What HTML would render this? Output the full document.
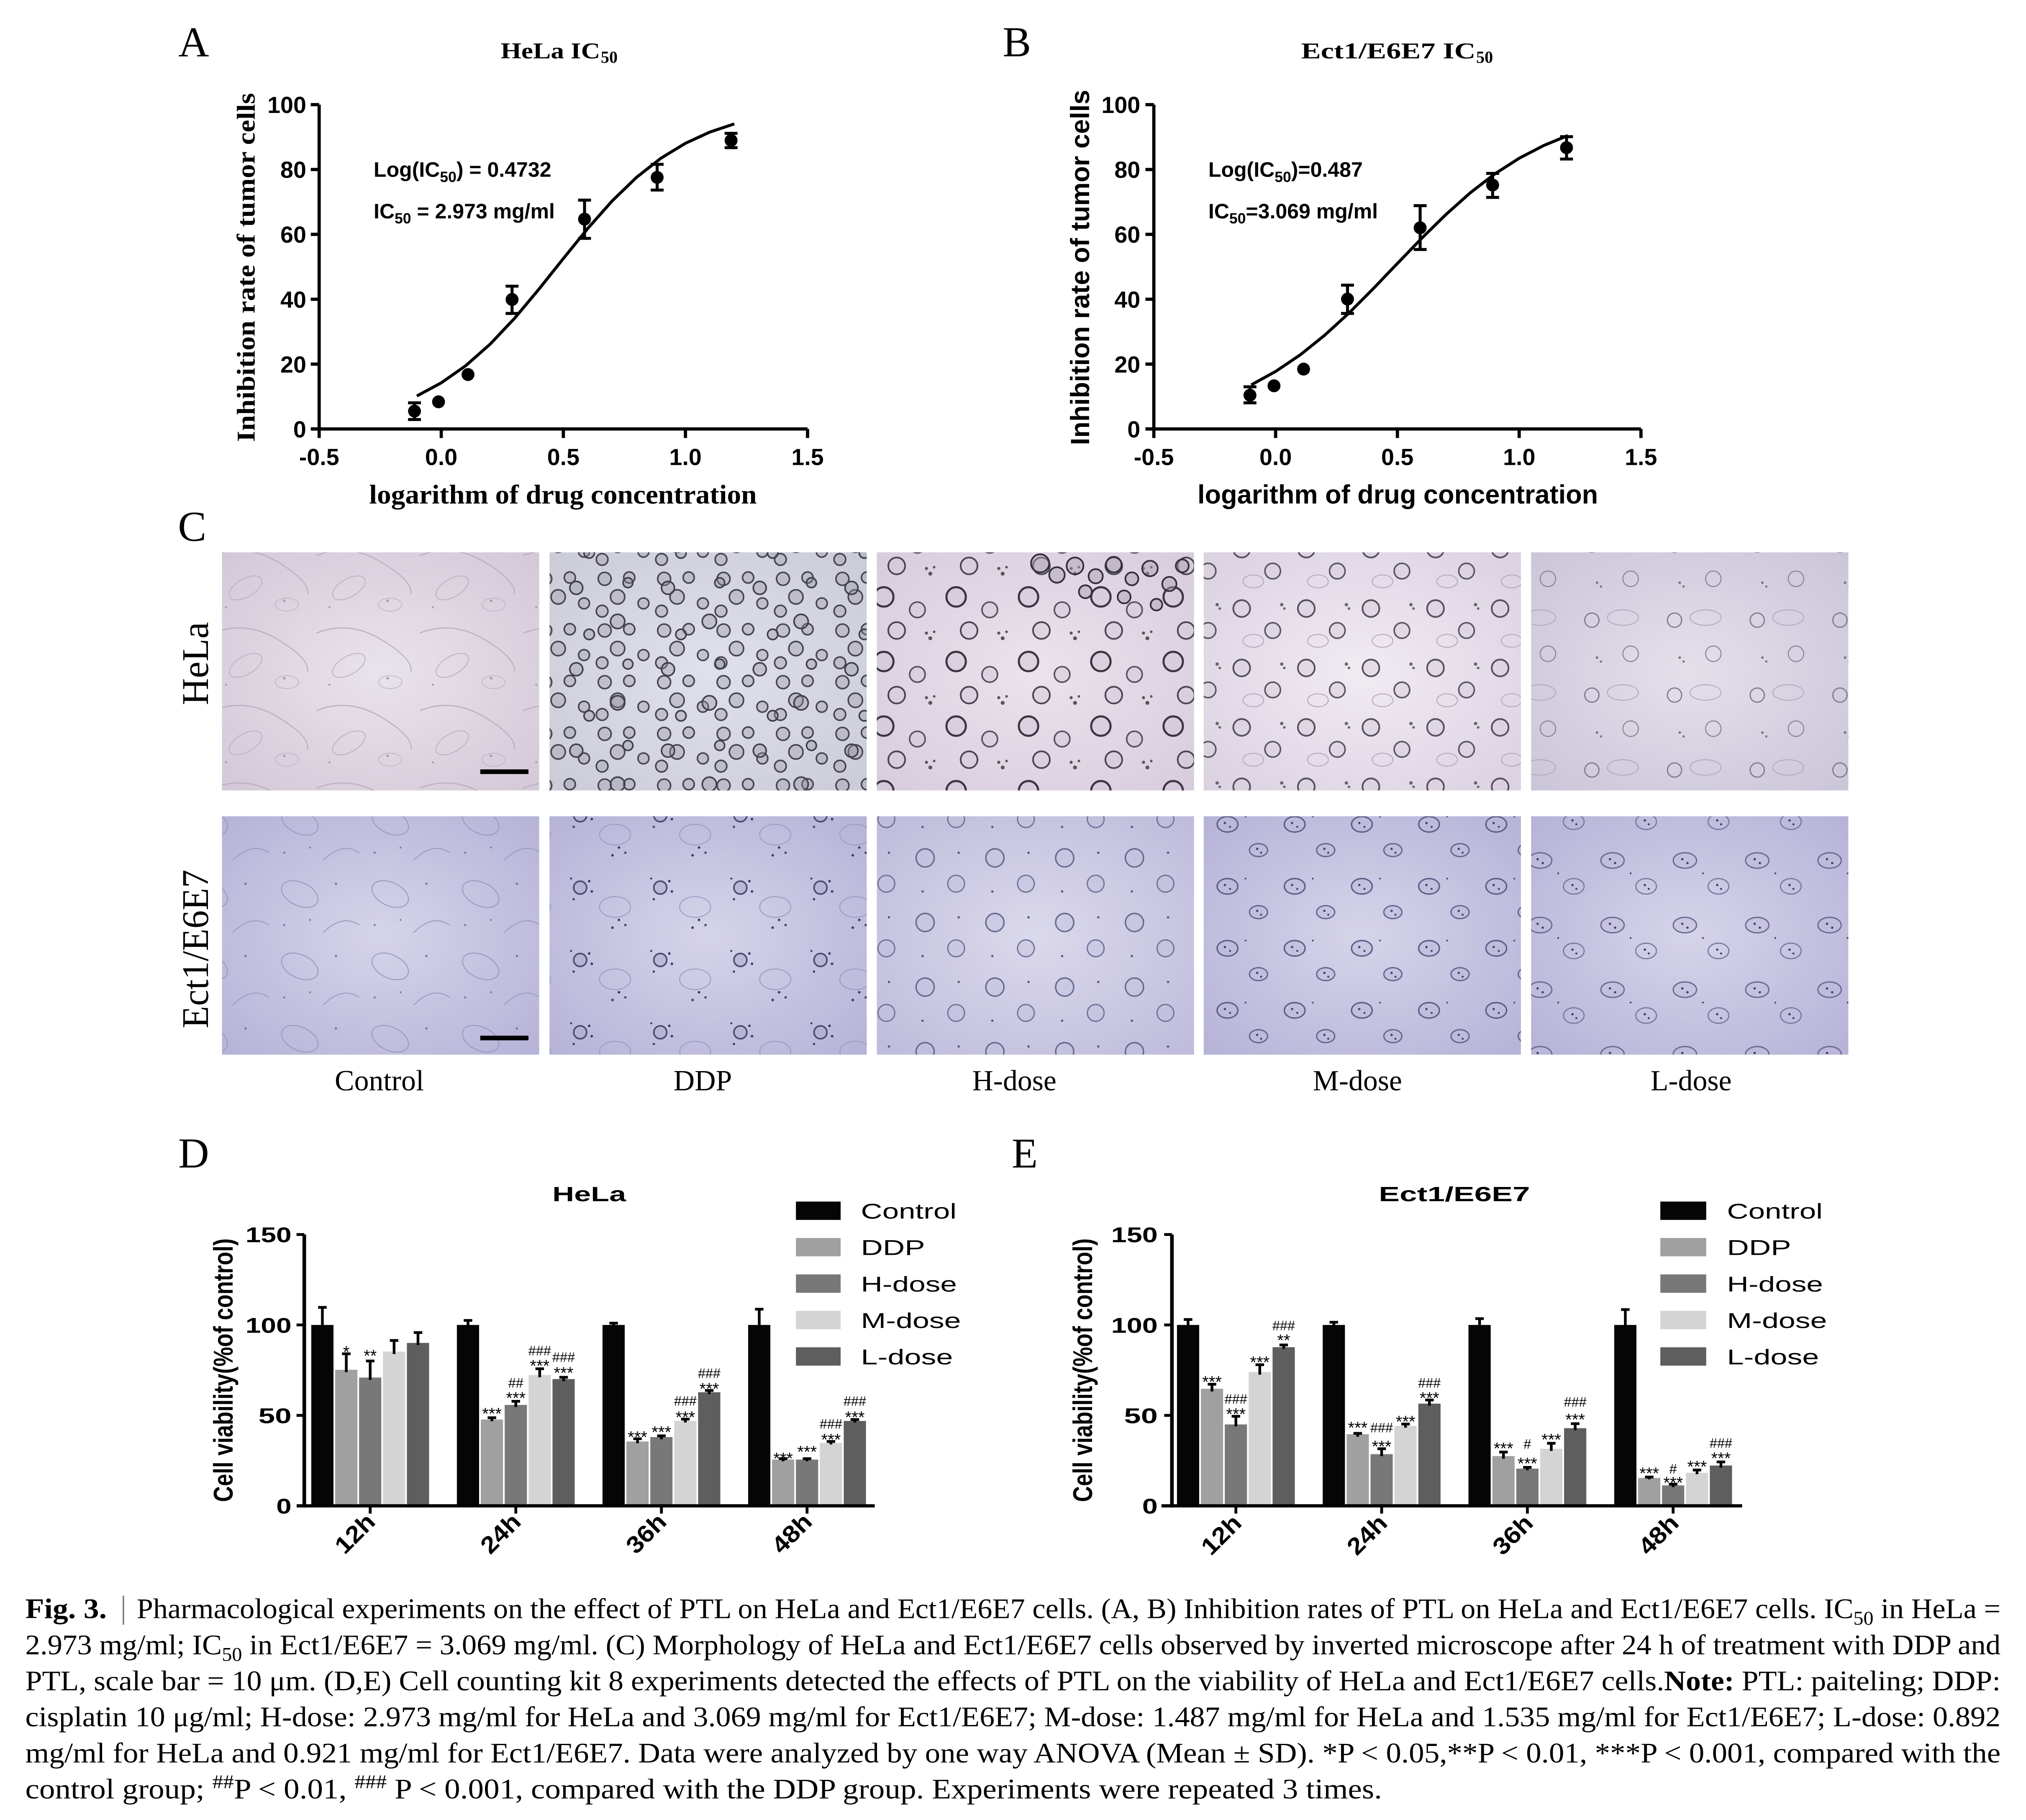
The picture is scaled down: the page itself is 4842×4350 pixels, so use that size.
<!DOCTYPE html>
<html><head><meta charset="utf-8"><style>html,body{margin:0;padding:0;background:#fff}svg{display:block}</style></head>
<body>
<svg xmlns="http://www.w3.org/2000/svg" width="4842" height="4350" viewBox="0 0 1568 1408.67" preserveAspectRatio="none">
<defs>
<radialGradient id="gH1" cx=".5" cy=".5" r=".75"><stop offset="0" stop-color="#e9e3eb"/><stop offset="1" stop-color="#d2c6d6"/></radialGradient>
<radialGradient id="gH2" cx=".5" cy=".5" r=".75"><stop offset="0" stop-color="#e0e1ea"/><stop offset="1" stop-color="#cacad7"/></radialGradient>
<radialGradient id="gH3" cx=".5" cy=".5" r=".75"><stop offset="0" stop-color="#ebe3ec"/><stop offset="1" stop-color="#d6cadc"/></radialGradient>
<radialGradient id="gH4" cx=".5" cy=".5" r=".75"><stop offset="0" stop-color="#f1ebf2"/><stop offset="1" stop-color="#d9cfe0"/></radialGradient>
<radialGradient id="gH5" cx=".5" cy=".5" r=".75"><stop offset="0" stop-color="#e4e0ea"/><stop offset="1" stop-color="#c9c3d7"/></radialGradient>
<radialGradient id="gE" cx=".5" cy=".5" r=".75"><stop offset="0" stop-color="#d6d4ea"/><stop offset="1" stop-color="#b3b0d6"/></radialGradient>
<radialGradient id="gE2" cx=".5" cy=".5" r=".75"><stop offset="0" stop-color="#dbd9ec"/><stop offset="1" stop-color="#bcb9da"/></radialGradient>

<pattern id="pH1" width="80" height="60" patternUnits="userSpaceOnUse">
<path d="M5 10 Q30 0 55 15 T78 40" stroke="#b9adbd" fill="none" stroke-width=".8"/>
<ellipse cx="30" cy="35" rx="14" ry="7" fill="none" stroke="#bfb2c2" stroke-width=".7" transform="rotate(-30 30 35)"/>
<ellipse cx="62" cy="48" rx="9" ry="5" fill="none" stroke="#c2b6c5" stroke-width=".6"/>
<circle cx="60" cy="45" r="1" fill="#a89aab"/><circle cx="15" cy="50" r=".8" fill="#a89aab"/>
</pattern>
<pattern id="pH2" width="46" height="40" patternUnits="userSpaceOnUse">
<g fill="#9d9ba8" fill-opacity=".4" stroke="#454552" stroke-width="1.2">
<circle cx="8" cy="8" r="5"/><circle cx="27" cy="7" r="4.3"/><circle cx="18" cy="22" r="5.5"/><circle cx="38" cy="27" r="4.2"/><circle cx="6" cy="33" r="4.5"/>
</g>
</pattern>
<pattern id="pH2b" width="71" height="63" patternUnits="userSpaceOnUse">
<g fill="#8f8d9a" fill-opacity=".35" stroke="#3e3e4a" stroke-width="1.2">
<circle cx="20" cy="14" r="5"/><circle cx="52" cy="40" r="5.5"/><circle cx="30" cy="50" r="4"/><circle cx="60" cy="10" r="3.8"/>
</g>
</pattern>
<pattern id="pH3" width="56" height="50" patternUnits="userSpaceOnUse">
<circle cx="12" cy="12" r="7.5" fill="#d0c6d6" fill-opacity=".5" stroke="#3a3540" stroke-width="1.6"/>
<circle cx="38" cy="22" r="6" fill="#cfc5d5" fill-opacity=".4" stroke="#555060" stroke-width="1.2"/>
<circle cx="22" cy="38" r="6.5" fill="#cfc5d5" fill-opacity=".4" stroke="#4a4550" stroke-width="1.3"/>
<circle cx="48" cy="44" r="1.5" fill="#555"/><circle cx="45" cy="40" r="1.2" fill="#555"/><circle cx="51" cy="39" r="1" fill="#555"/>
</pattern>
<pattern id="pH4" width="50" height="46" patternUnits="userSpaceOnUse">
<circle cx="11" cy="11" r="6.5" fill="#d7cddb" fill-opacity=".5" stroke="#55505c" stroke-width="1.3"/>
<circle cx="35" cy="28" r="6" fill="#d7cddb" fill-opacity=".5" stroke="#5a5562" stroke-width="1.2"/>
<ellipse cx="20" cy="36" rx="8" ry="5" fill="none" stroke="#b5a9b9" stroke-width=".7"/>
<circle cx="42" cy="8" r="1.3" fill="#666"/><circle cx="44" cy="11" r="1" fill="#666"/>
</pattern>
<pattern id="pH5" width="64" height="58" patternUnits="userSpaceOnUse">
<circle cx="16" cy="16" r="5.5" fill="none" stroke="#7c7788" stroke-width=".9"/>
<circle cx="46" cy="42" r="6" fill="none" stroke="#8a8595" stroke-width=".8"/>
<ellipse cx="40" cy="14" rx="12" ry="6" fill="none" stroke="#b0aabd" stroke-width=".7"/>
<circle cx="20" cy="45" r="1" fill="#777"/><circle cx="23" cy="48" r=".9" fill="#777"/>
</pattern>
<pattern id="pE1" width="70" height="56" patternUnits="userSpaceOnUse">
<ellipse cx="22" cy="20" rx="15" ry="9" fill="none" stroke="#9a97bd" stroke-width=".7" transform="rotate(25 22 20)"/>
<path d="M40 50 Q55 35 68 44" fill="none" stroke="#9c99bf" stroke-width=".7"/>
<circle cx="50" cy="12" r=".9" fill="#77769a"/><circle cx="10" cy="44" r=".8" fill="#77769a"/><circle cx="30" cy="40" r=".7" fill="#77769a"/>
</pattern>
<pattern id="pE2" width="62" height="56" patternUnits="userSpaceOnUse">
<circle cx="15" cy="15" r="5" fill="#a9a7cb" fill-opacity=".5" stroke="#4a4a6e" stroke-width="1.2"/>
<ellipse cx="42" cy="30" rx="12" ry="8" fill="none" stroke="#9c9ac0" stroke-width=".7"/>
<g fill="#3e3d60"><circle cx="22" cy="10" r="1"/><circle cx="24" cy="18" r="1"/><circle cx="10" cy="24" r=".9"/><circle cx="45" cy="40" r="1"/><circle cx="50" cy="44" r=".9"/><circle cx="40" cy="46" r="1"/><circle cx="8" cy="8" r=".8"/></g>
</pattern>
<pattern id="pE3" width="54" height="50" patternUnits="userSpaceOnUse">
<circle cx="14" cy="14" r="7" fill="#c0bddb" fill-opacity=".4" stroke="#6a6890" stroke-width="1.1"/>
<circle cx="38" cy="34" r="6.5" fill="#c0bddb" fill-opacity=".4" stroke="#75739a" stroke-width="1"/>
<circle cx="40" cy="10" r=".9" fill="#555577"/><circle cx="12" cy="40" r=".9" fill="#555577"/>
</pattern>
<pattern id="pE4" width="52" height="48" patternUnits="userSpaceOnUse">
<ellipse cx="14" cy="14" rx="8" ry="6" fill="#bcb9da" fill-opacity=".5" stroke="#5f5d88" stroke-width="1.1"/>
<ellipse cx="38" cy="34" rx="7" ry="5" fill="#bcb9da" fill-opacity=".5" stroke="#66648e" stroke-width="1"/>
<g fill="#444466"><circle cx="12" cy="13" r=".9"/><circle cx="16" cy="16" r=".8"/><circle cx="37" cy="33" r=".9"/><circle cx="40" cy="36" r=".8"/><circle cx="28" cy="8" r=".7"/></g>
</pattern>
<pattern id="pE5" width="56" height="50" patternUnits="userSpaceOnUse">
<ellipse cx="16" cy="16" rx="9" ry="6" fill="#bdbada" fill-opacity=".4" stroke="#6c6a92" stroke-width="1"/>
<ellipse cx="42" cy="36" rx="8" ry="6" fill="none" stroke="#7a78a0" stroke-width=".9"/>
<g fill="#3f3f62"><circle cx="14" cy="15" r=".9"/><circle cx="18" cy="18" r=".9"/><circle cx="41" cy="35" r=".9"/><circle cx="44" cy="38" r=".8"/><circle cx="30" cy="26" r=".7"/></g>
</pattern>
</defs>

<rect x="0" y="0" width="1568" height="1408.67" fill="#ffffff"/>

<!-- ===== Panel A ===== -->
<g font-family="'Liberation Serif', 'Times New Roman', serif">
<text x="138" y="43.5" font-size="33">A</text>
<text x="387.5" y="45.2" font-size="17.5" font-weight="bold" textLength="77" lengthAdjust="spacingAndGlyphs">HeLa IC</text>
<text x="465" y="48.5" font-size="13" font-weight="bold">50</text>
<text x="435.7" y="389.7" font-size="21" font-weight="bold" text-anchor="middle" textLength="300" lengthAdjust="spacingAndGlyphs">logarithm of drug concentration</text>
<text transform="translate(197,207) rotate(-90)" font-size="20" font-weight="bold" text-anchor="middle" textLength="270" lengthAdjust="spacingAndGlyphs">Inhibition rate of tumor cells</text>
</g>
<g stroke="#000" stroke-width="2.5" fill="none">
<path d="M247 81V333.2M241 332H625"/>
<path d="M240.5 81H247M240.5 131.2H247M240.5 181.4H247M240.5 231.6H247M240.5 281.8H247M240.5 332H247"/>
<path d="M247 332V339M341.5 332V339M436 332V339M530.5 332V339M625 332V339"/>
<polyline stroke-width="2.3" stroke-linejoin="round" points="322.6,306.5 341.5,296.3 360.4,283.1 379.3,266.4 398.2,246.4 417.1,223.8 436,200.1 454.9,176.8 473.8,155.5 492.7,137.2 511.6,122.4 530.5,110.9 549.4,102.2 568.3,95.9"/>
<path stroke-width="2.3" d="M320.8 311.8V324.7M315.8 311.8H325.8M315.8 324.7H325.8M396.3 221.5V242.6M391.3 221.5H401.3M391.3 242.6H401.3M452.4 154.9V184.5M447.4 154.9H457.4M447.4 184.5H457.4M508.6 127.2V147.1M503.6 127.2H513.6M503.6 147.1H513.6M565.8 103.2V114.3M560.8 103.2H570.8M560.8 114.3H570.8"/>
</g>
<g fill="#000">
<circle cx="320.8" cy="318.2" r="5"/><circle cx="339.4" cy="311" r="5"/><circle cx="362.2" cy="289.9" r="5"/><circle cx="396.3" cy="231.8" r="5"/><circle cx="452.4" cy="169.6" r="5"/><circle cx="508.6" cy="137.3" r="5"/><circle cx="565.8" cy="108.7" r="5"/>
</g>
<g font-family="'Liberation Sans', Arial, sans-serif" font-weight="bold" fill="#000">
<g font-size="18" text-anchor="end">
<text x="237" y="87.5">100</text><text x="237" y="137.7">80</text><text x="237" y="187.9">60</text><text x="237" y="238.1">40</text><text x="237" y="288.3">20</text><text x="237" y="338.5">0</text>
</g>
<g font-size="18" text-anchor="middle">
<text x="247" y="360">-0.5</text><text x="341.5" y="360">0.0</text><text x="436" y="360">0.5</text><text x="530.5" y="360">1.0</text><text x="625" y="360">1.5</text>
</g>
<text x="289.2" y="136.8" font-size="16.2">Log(IC<tspan font-size="11.5" dy="4">50</tspan><tspan dy="-4">) = 0.4732</tspan></text>
<text x="289.2" y="169" font-size="16.2">IC<tspan font-size="11.5" dy="4">50</tspan><tspan dy="-4"> = 2.973 mg/ml</tspan></text>
</g>

<!-- ===== Panel B ===== -->
<g font-family="'Liberation Serif', 'Times New Roman', serif">
<text x="776" y="43.5" font-size="33">B</text>
<text x="1007" y="45.2" font-size="17.5" font-weight="bold" textLength="135" lengthAdjust="spacingAndGlyphs">Ect1/E6E7  IC</text>
<text x="1142.5" y="48.5" font-size="13" font-weight="bold">50</text>
</g>
<g stroke="#000" stroke-width="2.5" fill="none">
<path d="M893 81V333.2M887 332H1270"/>
<path d="M886.5 81H893M886.5 131.2H893M886.5 181.4H893M886.5 231.6H893M886.5 281.8H893M886.5 332H893"/>
<path d="M893 332V339M987.25 332V339M1081.5 332V339M1175.75 332V339M1270 332V339"/>
<polyline stroke-width="2.3" stroke-linejoin="round" points="968.4,297.9 987.25,287.5 1006.1,274.8 1024.95,259.7 1043.8,242.5 1062.65,223.6 1081.5,203.9 1100.35,184.4 1119.2,165.9 1138.05,149.1 1156.9,134.6 1175.75,122.5 1194.6,112.7 1213.45,104.9"/>
<path stroke-width="2.3" d="M967.4 299.4V311.8M962.4 299.4H972.4M962.4 311.8H972.4M1042.9 220.7V242.6M1037.9 220.7H1047.9M1037.9 242.6H1047.9M1099.1 159.2V193.1M1094.1 159.2H1104.1M1094.1 193.1H1104.1M1155.2 134.2V152.8M1150.2 134.2H1160.2M1150.2 152.8H1160.2M1212.4 105.8V123.1M1207.4 105.8H1217.4M1207.4 123.1H1217.4"/>
</g>
<g fill="#000">
<circle cx="967.4" cy="305.9" r="5"/><circle cx="986" cy="298.6" r="5"/><circle cx="1008.9" cy="285.7" r="5"/><circle cx="1042.9" cy="231.5" r="5"/><circle cx="1099.1" cy="176.3" r="5"/><circle cx="1155.2" cy="143.2" r="5"/><circle cx="1212.4" cy="114.3" r="5"/>
</g>
<g font-family="'Liberation Sans', Arial, sans-serif" font-weight="bold" fill="#000">
<g font-size="18" text-anchor="end">
<text x="882.5" y="87.5">100</text><text x="882.5" y="137.7">80</text><text x="882.5" y="187.9">60</text><text x="882.5" y="238.1">40</text><text x="882.5" y="288.3">20</text><text x="882.5" y="338.5">0</text>
</g>
<g font-size="18" text-anchor="middle">
<text x="893" y="360">-0.5</text><text x="987.25" y="360">0.0</text><text x="1081.5" y="360">0.5</text><text x="1175.75" y="360">1.0</text><text x="1270" y="360">1.5</text>
</g>
<text x="935.2" y="136.8" font-size="16.2">Log(IC<tspan font-size="11.5" dy="4">50</tspan><tspan dy="-4">)=0.487</tspan></text>
<text x="935.2" y="169" font-size="16.2">IC<tspan font-size="11.5" dy="4">50</tspan><tspan dy="-4">=3.069 mg/ml</tspan></text>
<text x="1081.8" y="389.7" font-size="20.4" text-anchor="middle" textLength="310" lengthAdjust="spacingAndGlyphs">logarithm of drug concentration</text>
<text transform="translate(843,207) rotate(-90)" font-size="20.4" text-anchor="middle" textLength="275" lengthAdjust="spacingAndGlyphs">Inhibition rate of tumor cells</text>
</g>

<!-- ===== Panel C ===== -->
<text x="137.7" y="418.5" font-family="'Liberation Serif', 'Times New Roman', serif" font-size="33">C</text>
<rect x="171.8" y="427.5" width="245.5" height="184.3" fill="url(#gH1)"/><rect x="171.8" y="427.5" width="245.5" height="184.3" fill="url(#pH1)"/>
<rect x="425.3" y="427.5" width="245.5" height="184.3" fill="url(#gH2)"/><rect x="425.3" y="427.5" width="245.5" height="184.3" fill="url(#pH2)"/><rect x="425.3" y="427.5" width="245.5" height="184.3" fill="url(#pH2b)"/>
<rect x="678.6" y="427.5" width="245.5" height="184.3" fill="url(#gH3)"/><rect x="678.6" y="427.5" width="245.5" height="184.3" fill="url(#pH3)"/>
<g fill="#a9a0b0" fill-opacity=".45" stroke="#333038" stroke-width="1.3">
<circle cx="805" cy="436" r="7"/><circle cx="818" cy="445" r="6"/><circle cx="832" cy="438" r="6.5"/><circle cx="848" cy="446" r="5.5"/><circle cx="862" cy="437" r="6"/><circle cx="876" cy="448" r="5"/><circle cx="890" cy="440" r="6"/><circle cx="905" cy="452" r="5.5"/><circle cx="840" cy="458" r="5"/><circle cx="870" cy="462" r="5"/><circle cx="895" cy="468" r="4.5"/><circle cx="915" cy="438" r="5"/>
</g>
<rect x="931.6" y="427.5" width="245.5" height="184.3" fill="url(#gH4)"/><rect x="931.6" y="427.5" width="245.5" height="184.3" fill="url(#pH4)"/>
<rect x="1185" y="427.5" width="245.5" height="184.3" fill="url(#gH5)"/><rect x="1185" y="427.5" width="245.5" height="184.3" fill="url(#pH5)"/>
<rect x="171.8" y="631.8" width="245.5" height="184.5" fill="url(#gE)"/><rect x="171.8" y="631.8" width="245.5" height="184.5" fill="url(#pE1)"/>
<rect x="425.3" y="631.8" width="245.5" height="184.5" fill="url(#gE)"/><rect x="425.3" y="631.8" width="245.5" height="184.5" fill="url(#pE2)"/>
<rect x="678.6" y="631.8" width="245.5" height="184.5" fill="url(#gE2)"/><rect x="678.6" y="631.8" width="245.5" height="184.5" fill="url(#pE3)"/>
<rect x="931.6" y="631.8" width="245.5" height="184.5" fill="url(#gE)"/><rect x="931.6" y="631.8" width="245.5" height="184.5" fill="url(#pE4)"/>
<rect x="1185" y="631.8" width="245.5" height="184.5" fill="url(#gE)"/><rect x="1185" y="631.8" width="245.5" height="184.5" fill="url(#pE5)"/>
<rect x="371.7" y="595.5" width="37.3" height="3.6" fill="#000"/>
<rect x="371.7" y="801.6" width="37.3" height="3.6" fill="#000"/>
<g font-family="'Liberation Serif', 'Times New Roman', serif" fill="#000">
<text transform="translate(161,513.6) rotate(-90)" font-size="29" text-anchor="middle">HeLa</text>
<text transform="translate(161,734.5) rotate(-90)" font-size="29" text-anchor="middle" textLength="122.8" lengthAdjust="spacingAndGlyphs">Ect1/E6E7</text>
<g font-size="22.6" text-anchor="middle">
<text x="293.6" y="843.9">Control</text><text x="543.9" y="843.9">DDP</text><text x="785" y="843.9">H-dose</text><text x="1050.6" y="843.9">M-dose</text><text x="1308.8" y="843.9">L-dose</text>
</g>
</g>

<!-- ===== Panel D ===== -->
<text x="138" y="903.6" font-family="'Liberation Serif', 'Times New Roman', serif" font-size="33">D</text>
<g>
<rect x="240.9" y="1025.5" width="17.2" height="140" fill="#050505"/>
<rect x="259.4" y="1060.2" width="17.2" height="105.3" fill="#a0a0a0"/>
<rect x="277.9" y="1066.2" width="17.2" height="99.3" fill="#787878"/>
<rect x="296.4" y="1046.1" width="17.2" height="119.4" fill="#d4d4d4"/>
<rect x="314.9" y="1039.4" width="17.2" height="126.1" fill="#5e5e5e"/>
<rect x="353.6" y="1025.5" width="17.2" height="140" fill="#050505"/>
<rect x="372.1" y="1098.7" width="17.2" height="66.8" fill="#a0a0a0"/>
<rect x="390.6" y="1087.4" width="17.2" height="78.1" fill="#787878"/>
<rect x="409.1" y="1064.3" width="17.2" height="101.2" fill="#d4d4d4"/>
<rect x="427.6" y="1067.4" width="17.2" height="98.1" fill="#5e5e5e"/>
<rect x="466.3" y="1025.5" width="17.2" height="140" fill="#050505"/>
<rect x="484.8" y="1115.7" width="17.2" height="49.8" fill="#a0a0a0"/>
<rect x="503.3" y="1112.3" width="17.2" height="53.2" fill="#787878"/>
<rect x="521.8" y="1099.8" width="17.2" height="65.7" fill="#d4d4d4"/>
<rect x="540.3" y="1077.6" width="17.2" height="87.9" fill="#5e5e5e"/>
<rect x="579" y="1025.5" width="17.2" height="140" fill="#050505"/>
<rect x="597.5" y="1129.7" width="17.2" height="35.8" fill="#a0a0a0"/>
<rect x="616" y="1129.7" width="17.2" height="35.8" fill="#787878"/>
<rect x="634.5" y="1116.8" width="17.2" height="48.7" fill="#d4d4d4"/>
<rect x="653" y="1099.8" width="17.2" height="65.7" fill="#5e5e5e"/>
</g>
<path stroke="#000" stroke-width="2.1" fill="none" d="M249.5 1027V1011.9M246.2 1011.9H252.8M268 1062V1047.8M264.7 1047.8H271.3M286.5 1068V1053.4M283.2 1053.4H289.8M305 1048V1037.5M301.7 1037.5H308.3M323.5 1041V1031.4M320.2 1031.4H326.8
M362.2 1027V1022M358.9 1022H365.5M380.7 1100V1097.3M377.4 1097.3H384M399.2 1089V1084.6M395.9 1084.6H402.5M417.7 1066V1059.4M414.4 1059.4H421M436.2 1069V1066M432.9 1066H439.5
M474.9 1027V1024.1M471.6 1024.1H478.2M493.4 1117V1113.6M490.1 1113.6H496.7M511.9 1114V1111.3M508.6 1111.3H515.2M530.4 1101V1098.4M527.1 1098.4H533.7M548.9 1079V1076.2M545.6 1076.2H552.2
M587.6 1027V1013.3M584.3 1013.3H590.9M606.1 1131V1129M602.8 1129H609.4M624.6 1131V1129M621.3 1129H627.9M643.1 1118V1115.7M639.8 1115.7H646.4M661.6 1101V1098.7M658.3 1098.7H664.9"/>
<g stroke="#000" fill="none">
<path stroke-width="2.8" d="M235.5 955.5V1166.8"/>
<path stroke-width="2.5" d="M229.6 1165.5H677"/>
<path stroke-width="2.2" d="M229.5 955.5H235.5M229.5 1025.5H235.5M229.5 1095.5H235.5M286.5 1165.5V1171.5M399.2 1165.5V1171.5M511.9 1165.5V1171.5M624.6 1165.5V1171.5"/>
</g>
<g font-family="'Liberation Sans', Arial, sans-serif" fill="#000">
<g font-size="13" text-anchor="middle">
<text x="268" y="1050.9">*</text><text x="286.5" y="1053.8">**</text>
<text x="380.7" y="1098.6">***</text><text x="399.2" y="1086.5">***</text><text x="417.7" y="1061.5">***</text><text x="436.2" y="1067">***</text>
<text x="493.4" y="1116.8">***</text><text x="511.9" y="1112.9">***</text><text x="530.4" y="1101.3">***</text><text x="548.9" y="1079.3">***</text>
<text x="606.1" y="1133.3">***</text><text x="624.6" y="1128.1">***</text><text x="643.1" y="1118.6">***</text><text x="661.6" y="1101.3">***</text>
</g>
<g font-size="10.5" text-anchor="middle">
<text x="399.2" y="1074">##</text><text x="417.7" y="1049">###</text><text x="436.2" y="1054">###</text>
<text x="530.4" y="1087.9">###</text><text x="548.9" y="1066.5">###</text>
<text x="643.1" y="1105.8">###</text><text x="661.6" y="1088.1">###</text>
</g>
<g font-weight="bold">
<text x="456" y="929.8" font-size="16" text-anchor="middle" textLength="57" lengthAdjust="spacingAndGlyphs">HeLa</text>
<g font-size="16.5" text-anchor="end">
<text x="225.6" y="961.5" textLength="35.6" lengthAdjust="spacingAndGlyphs">150</text>
<text x="225.6" y="1031.5" textLength="35.6" lengthAdjust="spacingAndGlyphs">100</text>
<text x="225.6" y="1101.5" textLength="25.6" lengthAdjust="spacingAndGlyphs">50</text>
<text x="225.6" y="1171.5" textLength="11.8" lengthAdjust="spacingAndGlyphs">0</text>
</g>
<text transform="translate(180,1060.5) rotate(-90)" font-size="21" text-anchor="middle" textLength="204" lengthAdjust="spacingAndGlyphs">Cell viability(%of control)</text>
<g font-size="18.5" text-anchor="end">
<text transform="translate(291.5,1179) rotate(-45)" textLength="35" lengthAdjust="spacingAndGlyphs">12h</text>
<text transform="translate(404.2,1179) rotate(-45)" textLength="35" lengthAdjust="spacingAndGlyphs">24h</text>
<text transform="translate(516.9,1179) rotate(-45)" textLength="35" lengthAdjust="spacingAndGlyphs">36h</text>
<text transform="translate(629.6,1179) rotate(-45)" textLength="35" lengthAdjust="spacingAndGlyphs">48h</text>
</g>
</g>
<rect x="616" y="930" width="34.6" height="14.2" fill="#050505"/>
<rect x="616" y="958.2" width="34.6" height="14.2" fill="#a0a0a0"/>
<rect x="616" y="986.4" width="34.6" height="14.2" fill="#787878"/>
<rect x="616" y="1014.6" width="34.6" height="14.2" fill="#d4d4d4"/>
<rect x="616" y="1042.8" width="34.6" height="14.2" fill="#5e5e5e"/>
<g font-size="16.6">
<text x="666.3" y="943.2" textLength="74" lengthAdjust="spacingAndGlyphs">Control</text>
<text x="666.3" y="971.4" textLength="49.6" lengthAdjust="spacingAndGlyphs">DDP</text>
<text x="666.3" y="999.6" textLength="74.3" lengthAdjust="spacingAndGlyphs">H-dose</text>
<text x="666.3" y="1027.8" textLength="77.4" lengthAdjust="spacingAndGlyphs">M-dose</text>
<text x="666.3" y="1056" textLength="71.2" lengthAdjust="spacingAndGlyphs">L-dose</text>
</g>
</g>

<!-- ===== Panel E ===== -->
<text x="783" y="903.6" font-family="'Liberation Serif', 'Times New Roman', serif" font-size="33">E</text>
<g>
<rect x="910.9" y="1025.5" width="17.2" height="140" fill="#050505"/>
<rect x="929.4" y="1074.9" width="17.2" height="90.6" fill="#a0a0a0"/>
<rect x="947.9" y="1102.5" width="17.2" height="63" fill="#787878"/>
<rect x="966.4" y="1061.9" width="17.2" height="103.6" fill="#d4d4d4"/>
<rect x="984.9" y="1042.7" width="17.2" height="122.8" fill="#5e5e5e"/>
<rect x="1023.7" y="1025.5" width="17.2" height="140" fill="#050505"/>
<rect x="1042.2" y="1110.1" width="17.2" height="55.4" fill="#a0a0a0"/>
<rect x="1060.7" y="1125.5" width="17.2" height="40" fill="#787878"/>
<rect x="1079.2" y="1103.6" width="17.2" height="61.9" fill="#d4d4d4"/>
<rect x="1097.7" y="1086.4" width="17.2" height="79.1" fill="#5e5e5e"/>
<rect x="1136.5" y="1025.5" width="17.2" height="140" fill="#050505"/>
<rect x="1155" y="1127" width="17.2" height="38.5" fill="#a0a0a0"/>
<rect x="1173.5" y="1136.7" width="17.2" height="28.8" fill="#787878"/>
<rect x="1192" y="1121.3" width="17.2" height="44.2" fill="#d4d4d4"/>
<rect x="1210.5" y="1105.4" width="17.2" height="60.1" fill="#5e5e5e"/>
<rect x="1249.3" y="1025.5" width="17.2" height="140" fill="#050505"/>
<rect x="1267.8" y="1143.9" width="17.2" height="21.6" fill="#a0a0a0"/>
<rect x="1286.3" y="1149.7" width="17.2" height="15.8" fill="#787878"/>
<rect x="1304.8" y="1139.9" width="17.2" height="25.6" fill="#d4d4d4"/>
<rect x="1323.3" y="1134.3" width="17.2" height="31.2" fill="#5e5e5e"/>
</g>
<path stroke="#000" stroke-width="2.1" fill="none" d="M919.5 1027V1021.3M916.2 1021.3H922.8M938 1077V1071.4M934.7 1071.4H941.3M956.5 1104V1096.2M953.2 1096.2H959.8M975 1064V1056.3M971.7 1056.3H978.3M993.5 1044V1041M990.2 1041H996.8
M1032.3 1027V1023.4M1029 1023.4H1035.6M1050.8 1112V1109.4M1047.5 1109.4H1054.1M1069.3 1127V1121.3M1066 1121.3H1072.6M1087.8 1105V1102.2M1084.5 1102.2H1091.1M1106.3 1088V1083.6M1103 1083.6H1109.6
M1145.1 1027V1020.6M1141.8 1020.6H1148.4M1163.6 1129V1123.9M1160.3 1123.9H1166.9M1182.1 1138V1135.7M1178.8 1135.7H1185.4M1200.6 1123V1117.1M1197.3 1117.1H1203.9M1219.1 1107V1101.9M1215.8 1101.9H1222.4
M1257.9 1027V1013.6M1254.6 1013.6H1261.2M1276.4 1145V1143.2M1273.1 1143.2H1279.7M1294.9 1151V1148.7M1291.6 1148.7H1298.2M1313.4 1141V1137.8M1310.1 1137.8H1316.7M1331.9 1136V1131.5M1328.6 1131.5H1335.2"/>
<g stroke="#000" fill="none">
<path stroke-width="2.8" d="M907 955.5V1166.8"/>
<path stroke-width="2.5" d="M898.9 1165.5H1348.3"/>
<path stroke-width="2.2" d="M901 955.5H907M901 1025.5H907M901 1095.5H907M956.5 1165.5V1171.5M1069.3 1165.5V1171.5M1182.1 1165.5V1171.5M1294.9 1165.5V1171.5"/>
</g>
<g font-family="'Liberation Sans', Arial, sans-serif" fill="#000">
<g font-size="13" text-anchor="middle">
<text x="938" y="1074">***</text><text x="956.5" y="1099">***</text><text x="975" y="1058.8">***</text><text x="993.5" y="1041.8">**</text>
<text x="1050.8" y="1109.5">***</text><text x="1069.3" y="1124">***</text><text x="1087.8" y="1104.7">***</text><text x="1106.3" y="1086.5">***</text>
<text x="1163.6" y="1125.4">***</text><text x="1182.1" y="1137.2">***</text><text x="1200.6" y="1118.6">***</text><text x="1219.1" y="1103.1">***</text>
<text x="1276.4" y="1144.7">***</text><text x="1294.9" y="1152">***</text><text x="1313.4" y="1139.5">***</text><text x="1331.9" y="1133.1">***</text>
</g>
<g font-size="10.5" text-anchor="middle">
<text x="956.5" y="1086.5">###</text><text x="993.5" y="1029.7">###</text>
<text x="1069.3" y="1108.6">###</text><text x="1106.3" y="1074">###</text>
<text x="1182.1" y="1121.3">#</text><text x="1219.1" y="1088.8">###</text>
<text x="1294.9" y="1140.6">#</text><text x="1331.9" y="1120.6">###</text>
</g>
<g font-weight="bold">
<text x="1125.6" y="929.8" font-size="16" text-anchor="middle" textLength="117" lengthAdjust="spacingAndGlyphs">Ect1/E6E7</text>
<g font-size="16.5" text-anchor="end">
<text x="896" y="961.5" textLength="36" lengthAdjust="spacingAndGlyphs">150</text>
<text x="896" y="1031.5" textLength="36" lengthAdjust="spacingAndGlyphs">100</text>
<text x="896" y="1101.5" textLength="26" lengthAdjust="spacingAndGlyphs">50</text>
<text x="896" y="1171.5" textLength="12" lengthAdjust="spacingAndGlyphs">0</text>
</g>
<text transform="translate(845.2,1060.5) rotate(-90)" font-size="21" text-anchor="middle" textLength="204" lengthAdjust="spacingAndGlyphs">Cell viability(%of control)</text>
<g font-size="18.5" text-anchor="end">
<text transform="translate(962,1180) rotate(-45)" textLength="35" lengthAdjust="spacingAndGlyphs">12h</text>
<text transform="translate(1074.8,1180) rotate(-45)" textLength="35" lengthAdjust="spacingAndGlyphs">24h</text>
<text transform="translate(1187.6,1180) rotate(-45)" textLength="35" lengthAdjust="spacingAndGlyphs">36h</text>
<text transform="translate(1300.4,1180) rotate(-45)" textLength="35" lengthAdjust="spacingAndGlyphs">48h</text>
</g>
</g>
<rect x="1285" y="930" width="35.5" height="14.2" fill="#050505"/>
<rect x="1285" y="958.2" width="35.5" height="14.2" fill="#a0a0a0"/>
<rect x="1285" y="986.4" width="35.5" height="14.2" fill="#787878"/>
<rect x="1285" y="1014.6" width="35.5" height="14.2" fill="#d4d4d4"/>
<rect x="1285" y="1042.8" width="35.5" height="14.2" fill="#5e5e5e"/>
<g font-size="16.6">
<text x="1336.6" y="943.2" textLength="74" lengthAdjust="spacingAndGlyphs">Control</text>
<text x="1336.6" y="971.4" textLength="49.6" lengthAdjust="spacingAndGlyphs">DDP</text>
<text x="1336.6" y="999.6" textLength="74.3" lengthAdjust="spacingAndGlyphs">H-dose</text>
<text x="1336.6" y="1027.8" textLength="77.4" lengthAdjust="spacingAndGlyphs">M-dose</text>
<text x="1336.6" y="1056" textLength="71.2" lengthAdjust="spacingAndGlyphs">L-dose</text>
</g>
</g>

<!-- ===== Caption ===== -->
<g font-family="'Liberation Serif', 'Times New Roman', serif" font-size="22" fill="#000">
<text x="19.6" y="1252.5" font-weight="bold" textLength="63" lengthAdjust="spacingAndGlyphs">Fig. 3.</text>
<line x1="95.5" y1="1235" x2="95.5" y2="1257.5" stroke="#666" stroke-width="1"/>
<text x="105.8" y="1252.5" textLength="1442.5" lengthAdjust="spacingAndGlyphs">Pharmacological experiments on the effect of PTL on HeLa and Ect1/E6E7 cells. (A, B) Inhibition rates of PTL on HeLa and Ect1/E6E7 cells. IC<tspan font-size="15" dy="5">50</tspan><tspan dy="-5"> in HeLa =</tspan></text>
<text x="19.6" y="1280.4" textLength="1528.7" lengthAdjust="spacingAndGlyphs">2.973 mg/ml; IC<tspan font-size="15" dy="5">50</tspan><tspan dy="-5"> in Ect1/E6E7 = 3.069 mg/ml. (C) Morphology of HeLa and Ect1/E6E7 cells observed by inverted microscope after 24 h of treatment with DDP and</tspan></text>
<text x="19.6" y="1308.3" textLength="1528.7" lengthAdjust="spacingAndGlyphs">PTL, scale bar = 10 μm. (D,E) Cell counting kit 8 experiments detected the effects of PTL on the viability of HeLa and Ect1/E6E7 cells.<tspan font-weight="bold">Note:</tspan> PTL: paiteling; DDP:</text>
<text x="19.6" y="1336.2" textLength="1528.7" lengthAdjust="spacingAndGlyphs">cisplatin 10 μg/ml; H-dose: 2.973 mg/ml for HeLa and 3.069 mg/ml for Ect1/E6E7; M-dose: 1.487 mg/ml for HeLa and 1.535 mg/ml for Ect1/E6E7; L-dose: 0.892</text>
<text x="19.6" y="1364.1" textLength="1528.7" lengthAdjust="spacingAndGlyphs">mg/ml for HeLa and 0.921 mg/ml for Ect1/E6E7. Data were analyzed by one way ANOVA (Mean ± SD). *P &lt; 0.05,**P &lt; 0.01, ***P &lt; 0.001, compared with the</text>
<text x="19.6" y="1392" textLength="1050" lengthAdjust="spacingAndGlyphs">control group; <tspan font-size="15" dy="-8">##</tspan><tspan dy="8">P &lt; 0.01, </tspan><tspan font-size="15" dy="-8">###</tspan><tspan dy="8"> P &lt; 0.001, compared with the DDP group. Experiments were repeated 3 times.</tspan></text>
</g>
</svg>
</body></html>
